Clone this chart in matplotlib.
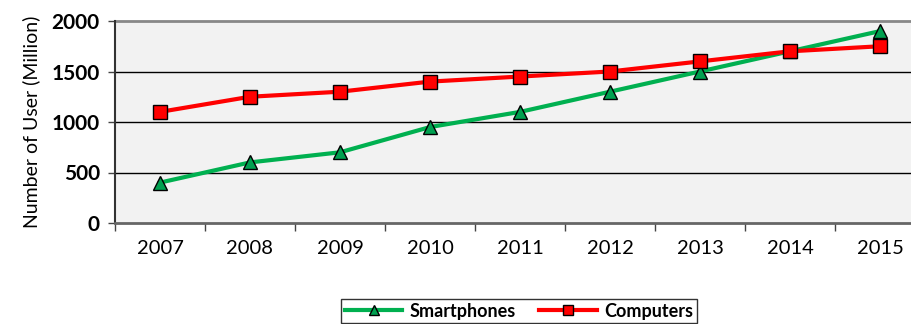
import numpy as np
import matplotlib.pyplot as plt

years = ['2007', '2008', '2009', '2010', '2011', '2012', '2013', '2014', '2015']
smartphones = [400, 600, 700, 950, 1100, 1300, 1500, 1700, 1900]
computers = [1100, 1250, 1300, 1400, 1450, 1500, 1600, 1700, 1750]

plt.rcParams['font.family'] = ['Lato', 'DejaVu Sans']

fig = plt.figure(figsize=(9.12, 3.24), dpi=100)
ax = fig.add_axes([115 / 912, 1 - 223 / 324, 810 / 912, 202 / 324])
ax.set_facecolor('#f2f2f2')

x = np.arange(len(years))
ax.plot(x, smartphones, color='#00b050', lw=3, marker='^', ms=10,
        mfc='#00a050', mec='black', mew=1, label='Smartphones', zorder=3)
ax.plot(x, computers, color='#ff0000', lw=3, marker='s', ms=10,
        mfc='#ff0000', mec='black', mew=1, label='Computers', zorder=4)

ax.set_xlim(-0.5, len(years) - 0.5)
ax.set_ylim(0, 2000)
ax.set_yticks([0, 500, 1000, 1500, 2000])
ax.set_yticklabels(['0', '500', '1000', '1500', '2000'], fontweight='bold', fontsize=15)
ax.set_xticks(x)
ax.set_xticklabels(years, fontsize=14.5)
ax.tick_params(axis='x', length=0, pad=12)
ax.set_xticks(np.arange(len(years) + 1) - 0.5, minor=True)
ax.tick_params(axis='x', which='minor', length=6, width=1, color='#444444')
ax.tick_params(axis='y', length=5, width=1, color='#444444', pad=6)

for v in [500, 1000, 1500]:
    ax.axhline(v, color='black', lw=1, zorder=1)
for s in ['top', 'right']:
    ax.spines[s].set_visible(False)
ax.axhline(2000, color='#888888', lw=2, zorder=1, clip_on=False)
ax.spines['left'].set_color('#333333')
ax.spines['left'].set_linewidth(1.5)
ax.spines['bottom'].set_color('#666666')
ax.spines['bottom'].set_linewidth(2)

ax.set_ylabel('Number of User (Million)', fontsize=14, labelpad=8)

leg = fig.legend(loc='upper center', bbox_to_anchor=(519 / 912, 1 - 290 / 324), ncol=2,
                 frameon=True, fancybox=False, prop={'weight': 'bold', 'size': 13},
                 handlelength=3.2, handletextpad=0.4, columnspacing=1.3,
                 borderpad=0.2, markerscale=0.7)
leg.get_frame().set_edgecolor('black')
leg.get_frame().set_linewidth(1)

fig.savefig('out.png', dpi=100)
